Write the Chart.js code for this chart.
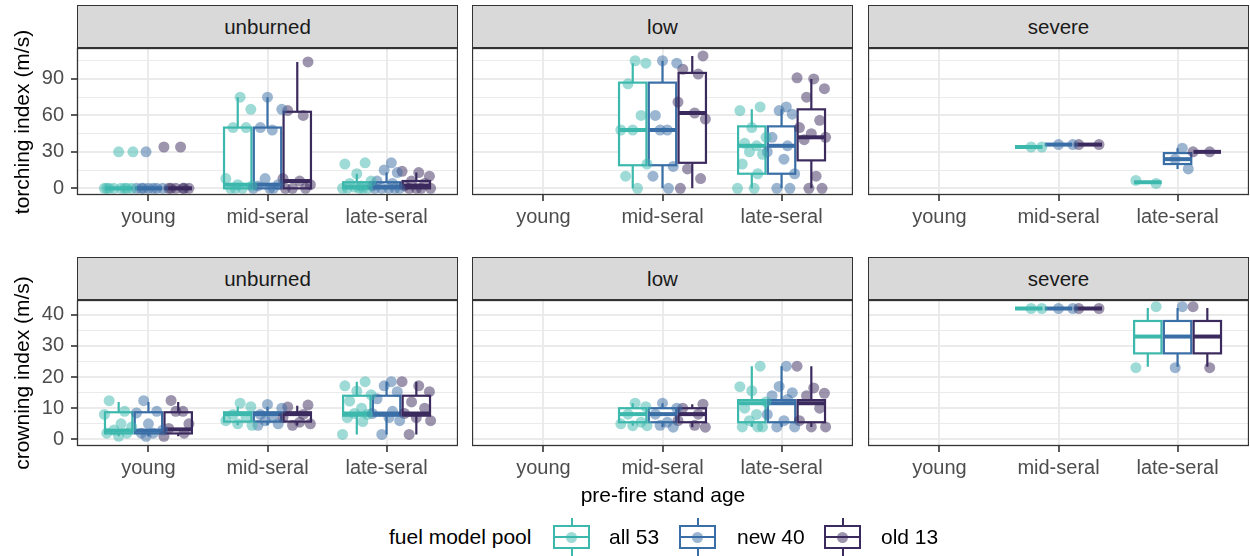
<!DOCTYPE html>
<html>
<head>
<meta charset="utf-8">
<script src="https://cdn.jsdelivr.net/npm/chart.js@4.4.1/dist/chart.umd.min.js"></script>
<style>
  body { margin: 0; background: #fff; font-family: "Liberation Sans", Arial, sans-serif; }
  #wrap { position: relative; width: 1250px; height: 556px; overflow: hidden; background: #fff; }
  canvas { position: absolute; }
  .strip { position: absolute; background: #D9D9D9; border: 1px solid #333; box-sizing: border-box;
           color: #1A1A1A; font-size: 20.5px; text-align: center; line-height: 41px; height: 43px; }
  .title { position: absolute; white-space: nowrap; font-size: 21px; color: #000; transform: translate(-50%, -50%); }
  .ytitle { transform: translate(-50%, -50%) rotate(-90deg); }
  .lab { position: absolute; white-space: nowrap; font-size: 21px; color: #000; transform: translateY(-50%); }
  .key { position: absolute; }
  .key div { position: absolute; }
</style>
</head>
<body>
<div id="wrap"></div>
<script>
const ages = ['young', 'mid-seral', 'late-seral'];
const pools = ['all 53', 'new 40', 'old 13'];
const severities = ['unburned', 'low', 'severe'];

// jittered points, indexed [age][pool]
const torchUnburnedPts = [
  [[0, 0, 0, 0, 0, 0, 0, 0, 30, 30], [0, 0, 0, 0, 0, 0, 0, 30], [0, 0, 0, 0, 0, 0, 34, 34]],
  [[75, 65, 50, 50, 8, 3, 2, 0, 0, 0], [75, 65, 50, 48, 8, 3, 2, 0, 0, 0], [104, 64, 60, 8, 6, 3, 0, 0, 0]],
  [[21, 20, 12, 6, 4, 2, 1, 0, 0, 0, 0, 0], [21, 15, 13, 6, 4, 2, 0, 0, 0, 0, 0], [14, 13, 10, 6, 4, 2, 0, 0, 0, 0]]
];
const torchLowPts = [
  [[], [], []],
  [[105, 103, 86, 60, 48, 48, 20, 10, 0], [105, 103, 60, 48, 48, 18, 10, 0], [109, 98, 94, 71, 62, 57, 16, 8, 0]],
  [[67, 64, 50, 42, 37, 35, 30, 28, 20, 12, 0, 0], [67, 64, 61, 42, 35, 30, 24, 12, 0, 0], [91, 90, 82, 75, 56, 50, 45, 42, 40, 10, 0, 0]]
];
const torchSeverePts = [
  [[], [], []],
  [[34, 34], [36, 36], [36, 36]],
  [[4, 6.5], [33, 24, 16], [30, 30]]
];
const crownUnburnedPts = [
  [[12.4, 9, 8, 5, 4, 3, 2, 2, 1], [12.4, 9, 8.5, 5, 3, 2, 2, 1], [12.5, 9, 9, 5, 3.5, 2, 1]],
  [[11.6, 10.5, 8, 7, 6, 5, 4.5], [11.2, 10, 8, 7, 6, 5, 4.5], [11, 10.4, 8, 7, 5.5, 5, 4.5]],
  [[18.5, 17.2, 15.5, 14.3, 12.3, 10, 8.3, 8, 7, 5.7, 1.6], [18.5, 17.2, 15.3, 13, 9, 8.3, 7, 6, 1.6], [18.5, 17.2, 15.3, 12, 10, 8.3, 7, 6, 1.6]]
];
const crownLowPts = [
  [[], [], []],
  [[11.6, 10.5, 8.1, 5.5, 5, 4.4, 4.4], [11.6, 10, 8.1, 5.5, 4.5, 3.9], [11.3, 10, 8.1, 6, 4.5, 3.9]],
  [[23.5, 16.9, 15.6, 12, 10, 8, 6, 4, 4, 4], [23.5, 17, 15, 14, 12.8, 8, 6, 4, 4], [23.5, 16.5, 14.8, 14, 10, 6, 4, 4]]
];
const crownSeverePts = [
  [[], [], []],
  [[42, 42], [42, 42], [42, 42]],
  [[42.6, 23], [42.6, 23], [42.6, 23]]
];

// box stats [lower whisker, q1, median, q3, upper whisker], indexed [age][pool]
const torchUnburnedBox = [
  [[0, 0, 0, 0, 0], [0, 0, 0, 0, 0], [0, 0, 0, 0, 0]],
  [[0, 0, 3, 50, 75], [0, 0, 3, 50, 75], [0, 0, 6, 63, 104]],
  [[0, 0, 1, 5, 12], [0, 0, 1, 5, 13], [0, 0, 2, 6, 13]]
];
const torchLowBox = [
  [null, null, null],
  [[0, 19, 48, 87, 103], [0, 19, 48, 87, 105], [0, 21, 62, 95, 109]],
  [[0, 12, 35, 51, 65], [0, 12, 35, 51, 65], [0, 23, 42, 65, 90]]
];
const torchSevereBox = [
  [null, null, null],
  [[34, 34, 34, 34, 34], [36, 36, 36, 36, 36], [36, 36, 36, 36, 36]],
  [[5, 5, 5, 5, 5], [16, 20, 24, 29, 33], [30, 30, 30, 30, 30]]
];
const crownUnburnedBox = [
  [[1, 1.9, 2.8, 8.7, 12], [1, 1.9, 2.8, 8.7, 12], [1, 1.9, 3.2, 8.7, 12]],
  [[4.5, 5.7, 8.1, 8.7, 10.5], [4.5, 5.7, 8.1, 8.7, 10.5], [4.5, 5.7, 8.1, 8.7, 10.8]],
  [[1.6, 7.6, 8.3, 14, 18.5], [1.6, 7.6, 8.3, 14, 18.5], [1.6, 7.6, 8.3, 14, 18.5]]
];
const crownLowBox = [
  [null, null, null],
  [[4.4, 5.5, 8.1, 10, 11.6], [3.9, 5.5, 8.1, 10, 11.6], [3.9, 5.5, 8.1, 10, 11.3]],
  [[4, 5.5, 11.6, 12.6, 23.5], [4, 5.5, 11.6, 12.6, 23.5], [4, 5.5, 11.6, 12.6, 23.5]]
];
const crownSevereBox = [
  [null, null, null],
  [[42, 42, 42, 42, 42], [42, 42, 42, 42, 42], [42, 42, 42, 42, 42]],
  [[23.3, 27.6, 33, 38, 42.2], [23.3, 27.6, 33, 38, 42.2], [23.3, 27.6, 33, 38, 42.2]]
];

const torchTicks = [0, 15, 30, 45, 60, 75, 90, 105];
const crownTicks = [0, 5, 10, 15, 20, 25, 30, 35, 40];

// styling / layout
const poolColors = ['#3DB8AD', '#3A6EA6', '#3B2A5E'];
const poolFill = ['rgba(61,184,173,0.5)', 'rgba(58,110,166,0.5)', 'rgba(59,42,94,0.5)'];
const poolOffset = [-0.25, 0, 0.25];
const boxHalf = 0.115;
const jitter = [-0.08, 0.05, -0.12, 0.02, 0.11, -0.04, 0.07, -0.1, 0.0, 0.12, -0.06, 0.04, -0.02, 0.09];
const colLeft = [77, 472, 868];
const panelW = 381;
const rowTop = [48, 300];
const panelH = [147, 146];
const stripTop = [5, 257];
const xAxisH = 45;

Chart.defaults.font.family = '"Liberation Sans", Arial, sans-serif';

const wrap = document.getElementById('wrap');

function boxPlugin(stats) {
  return {
    id: 'boxes',
    beforeDatasetsDraw(chart) {
      const { ctx, chartArea: ca, scales: { x, y } } = chart;
      ctx.save();
      ctx.beginPath();
      ctx.rect(ca.left, ca.top, ca.right - ca.left, ca.bottom - ca.top);
      ctx.clip();
      stats.forEach((byPool, a) => byPool.forEach((s, p) => {
        if (!s) return;
        const c = a + 1 + poolOffset[p];
        const xl = x.getPixelForValue(c - boxHalf);
        const xr = x.getPixelForValue(c + boxHalf);
        const xc = x.getPixelForValue(c);
        const [lo, q1, md, q3, hi] = s.map(v => y.getPixelForValue(v));
        ctx.strokeStyle = poolColors[p];
        ctx.lineWidth = 2.2;
        ctx.beginPath();
        ctx.moveTo(xc, hi); ctx.lineTo(xc, q3);
        ctx.moveTo(xc, q1); ctx.lineTo(xc, lo);
        ctx.stroke();
        ctx.fillStyle = '#fff';
        ctx.fillRect(xl, q3, xr - xl, q1 - q3);
        ctx.strokeRect(xl, q3, xr - xl, q1 - q3);
        ctx.lineWidth = 4;
        ctx.beginPath();
        ctx.moveTo(xl, md); ctx.lineTo(xr, md);
        ctx.stroke();
      }));
      ctx.restore();
    },
    afterDraw(chart) {
      const { ctx, chartArea: ca } = chart;
      ctx.save();
      ctx.strokeStyle = '#333333';
      ctx.lineWidth = 1.3;
      ctx.strokeRect(ca.left + 0.5, ca.top + 0.5, ca.right - ca.left - 1, ca.bottom - ca.top - 1);
      ctx.restore();
    }
  };
}

function makePanel(row, col, pts, stats) {
  const yw = col === 0 ? 77 : 0;
  const canvas = document.createElement('canvas');
  canvas.width = panelW + yw;
  canvas.height = panelH[row] + xAxisH;
  canvas.style.left = (colLeft[col] - yw) + 'px';
  canvas.style.top = rowTop[row] + 'px';
  wrap.appendChild(canvas);

  const strip = document.createElement('div');
  strip.className = 'strip';
  strip.style.left = colLeft[col] + 'px';
  strip.style.top = stripTop[row] + 'px';
  strip.style.width = panelW + 'px';
  strip.textContent = severities[col];
  wrap.appendChild(strip);

  const ticks = row === 0 ? torchTicks : crownTicks;
  const major = row === 0 ? 30 : 10;
  const yMin = row === 0 ? -5.5 : -2.13;
  const yMax = row === 0 ? 115.5 : 44.73;

  const datasets = pools.map((name, p) => {
    const data = [];
    pts.forEach((byPool, a) => {
      byPool[p].forEach((v, k) => {
        data.push({ x: a + 1 + poolOffset[p] + jitter[(k + a * 3 + p * 5) % jitter.length], y: v });
      });
    });
    return {
      label: name,
      data: data,
      backgroundColor: poolFill[p],
      borderWidth: 0,
      pointRadius: 5.5,
      pointHoverRadius: 5.5
    };
  });

  new Chart(canvas, {
    type: 'scatter',
    data: { datasets },
    options: {
      responsive: false,
      animation: false,
      events: [],
      layout: { padding: 0, autoPadding: false },
      plugins: { legend: { display: false }, tooltip: { enabled: false } },
      scales: {
        x: {
          type: 'linear', min: 0.4, max: 3.6,
          afterBuildTicks: s => { s.ticks = [1, 2, 3].map(v => ({ value: v })); },
          afterFit: s => { s.height = xAxisH; s.paddingLeft = 0; s.paddingRight = 0; },
          border: { display: false },
          grid: { color: '#EBEBEB', lineWidth: 2, tickLength: 6, tickColor: '#333333', tickWidth: 1.6 },
          ticks: { callback: v => ages[v - 1], color: '#4D4D4D', font: { size: 20 }, padding: 4, maxRotation: 0, autoSkip: false }
        },
        y: {
          type: 'linear', min: yMin, max: yMax,
          afterBuildTicks: s => { s.ticks = ticks.map(v => ({ value: v })); },
          afterFit: s => { s.width = yw; s.paddingTop = 0; s.paddingBottom = 0; },
          border: { display: false },
          grid: {
            color: '#EBEBEB',
            lineWidth: c => (c.tick && c.tick.value % major === 0 ? 2 : 1),
            drawTicks: col === 0,
            tickLength: 6,
            tickWidth: 1.6,
            tickColor: c => (c.tick && c.tick.value % major === 0 ? '#333333' : 'rgba(0,0,0,0)')
          },
          ticks: {
            display: col === 0,
            callback: v => (v % major === 0 ? v : ''),
            color: '#4D4D4D', font: { size: 20 }, padding: 7, autoSkip: false
          }
        }
      }
    },
    plugins: [boxPlugin(stats)]
  });
}

makePanel(0, 0, torchUnburnedPts, torchUnburnedBox);
makePanel(0, 1, torchLowPts, torchLowBox);
makePanel(0, 2, torchSeverePts, torchSevereBox);
makePanel(1, 0, crownUnburnedPts, crownUnburnedBox);
makePanel(1, 1, crownLowPts, crownLowBox);
makePanel(1, 2, crownSeverePts, crownSevereBox);

function addText(cls, text, left, top) {
  const d = document.createElement('div');
  d.className = cls;
  d.textContent = text;
  d.style.left = left + 'px';
  d.style.top = top + 'px';
  wrap.appendChild(d);
}
addText('title ytitle', 'torching index (m/s)', 22, 121.5);
addText('title ytitle', 'crowning index (m/s)', 22, 373);
addText('title', 'pre-fire stand age', 663, 495);

// legend
addText('lab', 'fuel model pool', 389, 537);
const keyLeft = [553, 679, 824];
const labLeft = [609, 737, 881];
pools.forEach((name, p) => {
  const k = document.createElement('div');
  k.className = 'key';
  k.style.left = keyLeft[p] + 'px';
  k.style.top = '518px';
  k.style.width = '37px';
  k.style.height = '38px';
  const col = poolColors[p];
  k.innerHTML =
    `<div style="left:17.5px;top:0;width:2px;height:38px;background:${col}"></div>` +
    `<div style="left:0;top:7px;width:37px;height:24px;border:2px solid ${col};background:#fff;box-sizing:border-box"></div>` +
    `<div style="left:0;top:18px;width:37px;height:2px;background:${col}"></div>` +
    `<div style="left:13px;top:13.5px;width:11px;height:11px;border-radius:50%;background:${poolFill[p]}"></div>`;
  wrap.appendChild(k);
  addText('lab', name, labLeft[p], 537);
});
</script>
</body>
</html>
